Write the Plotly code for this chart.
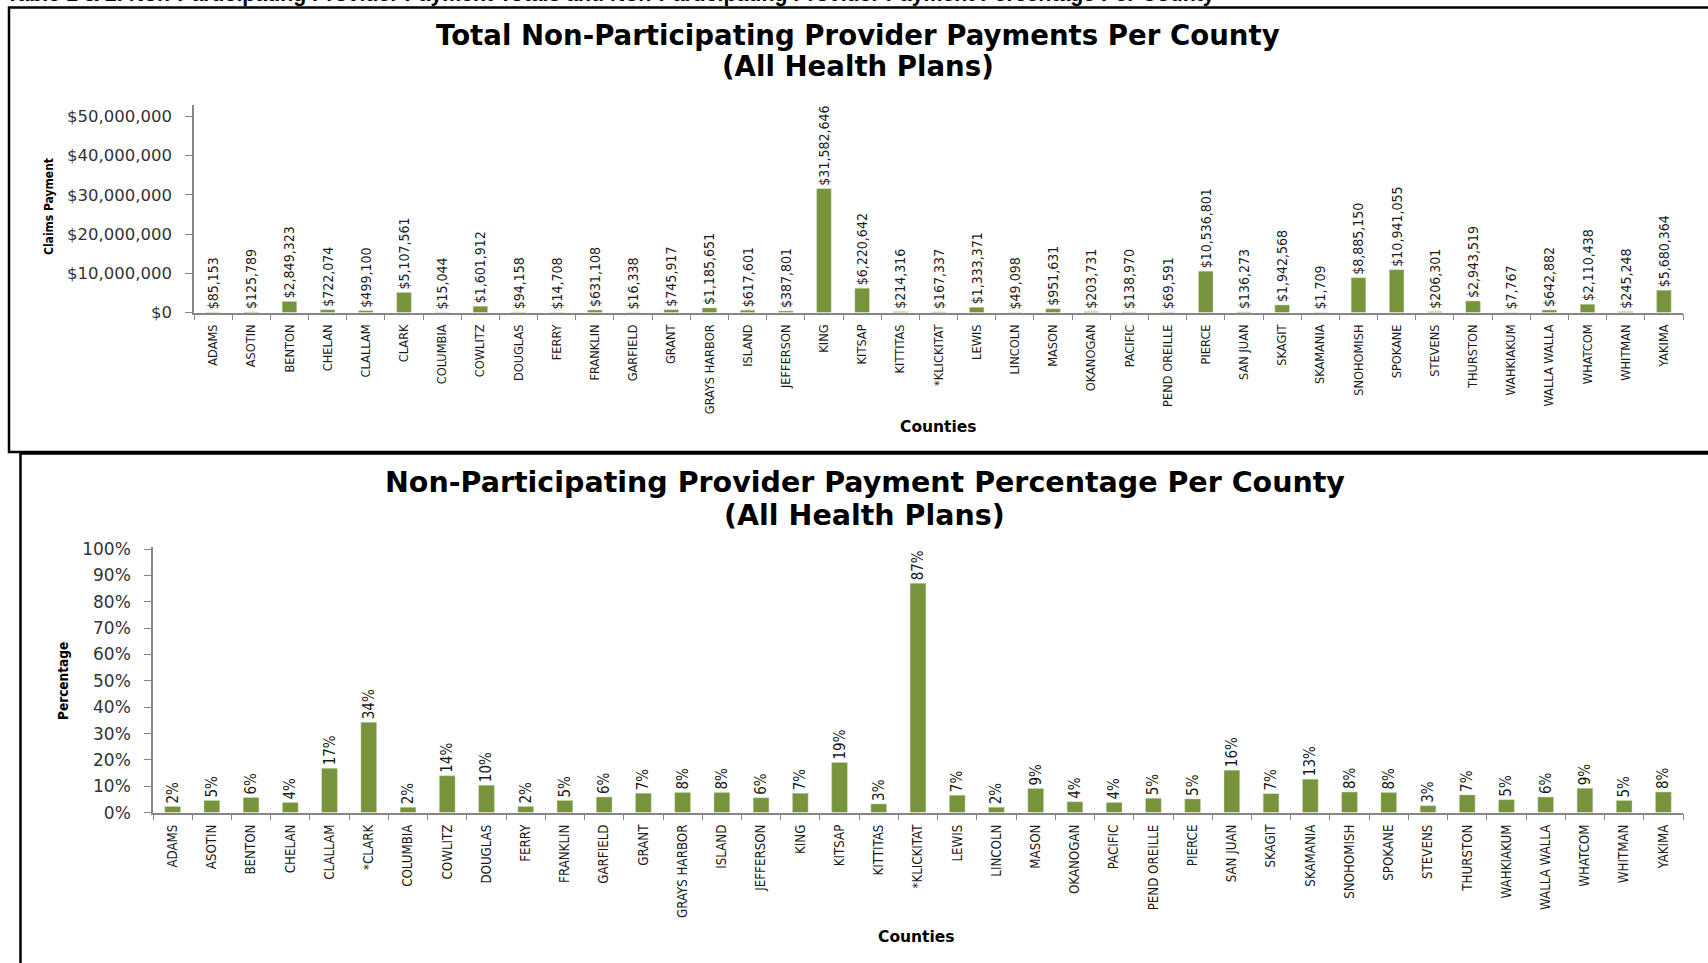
import plotly.graph_objects as go

W, H = 1708, 963

# --- data ---
counties = ["ADAMS", "ASOTIN", "BENTON", "CHELAN", "CLALLAM", "CLARK", "COLUMBIA",
            "COWLITZ", "DOUGLAS", "FERRY", "FRANKLIN", "GARFIELD", "GRANT",
            "GRAYS HARBOR", "ISLAND", "JEFFERSON", "KING", "KITSAP", "KITTITAS",
            "*KLICKITAT", "LEWIS", "LINCOLN", "MASON", "OKANOGAN", "PACIFIC",
            "PEND OREILLE", "PIERCE", "SAN JUAN", "SKAGIT", "SKAMANIA", "SNOHOMISH",
            "SPOKANE", "STEVENS", "THURSTON", "WAHKIAKUM", "WALLA WALLA", "WHATCOM",
            "WHITMAN", "YAKIMA"]

counties_pct = ["ADAMS", "ASOTIN", "BENTON", "CHELAN", "CLALLAM", "*CLARK", "COLUMBIA",
                "COWLITZ", "DOUGLAS", "FERRY", "FRANKLIN", "GARFIELD", "GRANT",
                "GRAYS HARBOR", "ISLAND", "JEFFERSON", "KING", "KITSAP", "KITTITAS",
                "*KLICKITAT", "LEWIS", "LINCOLN", "MASON", "OKANOGAN", "PACIFIC",
                "PEND OREILLE", "PIERCE", "SAN JUAN", "SKAGIT", "SKAMANIA", "SNOHOMISH",
                "SPOKANE", "STEVENS", "THURSTON", "WAHKIAKUM", "WALLA WALLA", "WHATCOM",
                "WHITMAN", "YAKIMA"]

payments = [85153, 125789, 2849323, 722074, 499100, 5107561, 15044,
            1601912, 94158, 14708, 631108, 16338, 745917,
            1185651, 617601, 387801, 31582646, 6220642, 214316,
            167337, 1333371, 49098, 951631, 203731, 138970,
            69591, 10536801, 136273, 1942568, 1709, 8885150,
            10941055, 206301, 2943519, 7767, 642882, 2110438,
            245248, 5680364]

pct = [0.023, 0.046, 0.057, 0.038, 0.168, 0.343, 0.020,
       0.140, 0.104, 0.023, 0.046, 0.059, 0.073,
       0.076, 0.076, 0.056, 0.073, 0.190, 0.033,
       0.870, 0.066, 0.020, 0.091, 0.041, 0.038,
       0.054, 0.052, 0.161, 0.072, 0.127, 0.078,
       0.076, 0.026, 0.067, 0.049, 0.059, 0.092,
       0.046, 0.078]

pay_ticks = [0, 10000000, 20000000, 30000000, 40000000, 50000000]
pay_ticktext = ["$0", "$10,000,000", "$20,000,000", "$30,000,000", "$40,000,000", "$50,000,000"]

BAR = "#77933C"
AXIS = "#868686"
NARROW = "DejaVu Sans Condensed, Liberation Sans, Arial, sans-serif"
WIDE = "DejaVu Sans, Verdana, sans-serif"


def fx(x):
    return x / W


def fy(y):
    return 1 - y / H


fig = go.Figure()

fig.add_trace(go.Bar(
    x=counties, y=payments, xaxis="x", yaxis="y",
    marker=dict(color=BAR, line=dict(color="#c9d6b0", width=0.5)),
    width=0.38,
    texttemplate="$%{y:,.0f}", textposition="outside", textangle=-90,
    constraintext="none", cliponaxis=False,
    textfont=dict(family=NARROW, size=14, color="#1a1a1a"),
    showlegend=False
))

fig.add_trace(go.Bar(
    x=counties_pct, y=pct, xaxis="x2", yaxis="y2",
    marker=dict(color=BAR, line=dict(color="#c9d6b0", width=0.5)),
    width=0.4,
    texttemplate="%{y:.0%}", textposition="outside", textangle=-90,
    constraintext="none", cliponaxis=False,
    textfont=dict(family=NARROW, size=15, color="#1a1a1a"),
    showlegend=False
))

xcommon = dict(type="category", showline=True, linecolor=AXIS, linewidth=1.5,
               ticks="outside", ticklen=6, tickcolor=AXIS, tickson="boundaries",
               tickangle=-90, showgrid=False, zeroline=False, automargin=False,
               ticklabelstandoff=5)
ycommon = dict(showline=True, linecolor=AXIS, linewidth=1.5, ticks="outside",
               ticklen=7, tickcolor=AXIS, showgrid=False, zeroline=False,
               ticklabelstandoff=10, automargin=False)

fig.update_layout(
    width=W, height=H, autosize=False,
    margin=dict(l=0, r=0, t=0, b=0, pad=0),
    paper_bgcolor="white", plot_bgcolor="white",
    xaxis=dict(xcommon, domain=[fx(194), fx(1683)], anchor="y",
               tickfont=dict(family=NARROW, size=12.7, color="#1a1a1a")),
    yaxis=dict(ycommon, domain=[fy(312.6), fy(104.6)], anchor="x",
               range=[0, 53000000], tickvals=pay_ticks, ticktext=pay_ticktext,
               tickfont=dict(family=WIDE, size=16.5, color="#333333")),
    xaxis2=dict(xcommon, domain=[fx(153), fx(1683)], anchor="y2",
                tickfont=dict(family=NARROW, size=13.2, color="#1a1a1a")),
    yaxis2=dict(ycommon, domain=[fy(812.6), fy(547)], anchor="x2",
                range=[0, 1.008], dtick=0.1, tickformat=".0%",
                tickfont=dict(family=WIDE, size=17, color="#333333")),
)

# panel frames
fig.add_shape(type="rect", xref="paper", yref="paper",
              x0=fx(9), x1=fx(1720), y0=fy(452), y1=fy(7.5),
              line=dict(color="black", width=2.5), layer="below")
fig.add_shape(type="rect", xref="paper", yref="paper",
              x0=fx(20.5), x1=fx(1720), y0=fy(980), y1=fy(453.5),
              line=dict(color="black", width=2.5), layer="below")

ann = [
    dict(text="<b>Table 1 & 2. Non-Participating Provider Payment Totals and Non-Participating Provider Payment Percentage Per County</b>",
         x=fx(4), y=fy(8), xanchor="left", yanchor="bottom",
         font=dict(family="Liberation Sans, Arial, sans-serif", size=21.3, color="black")),
    dict(text="<b>Total Non-Participating Provider Payments Per County</b>",
         x=fx(858), y=fy(35), xanchor="center", yanchor="middle",
         font=dict(family=WIDE, size=27.6, color="black")),
    dict(text="<b>(All Health Plans)</b>",
         x=fx(858), y=fy(66.4), xanchor="center", yanchor="middle",
         font=dict(family=WIDE, size=27.6, color="black")),
    dict(text="<b>Non-Participating Provider Payment Percentage Per County</b>",
         x=fx(865), y=fy(482.6), xanchor="center", yanchor="middle",
         font=dict(family=WIDE, size=28.5, color="black")),
    dict(text="<b>(All Health Plans)</b>",
         x=fx(865), y=fy(515.2), xanchor="center", yanchor="middle",
         font=dict(family=WIDE, size=28.5, color="black")),
    dict(text="<b>Claims Payment</b>", x=fx(49), y=fy(207), textangle=-90,
         xanchor="center", yanchor="middle",
         font=dict(family=NARROW, size=12, color="black")),
    dict(text="<b>Counties</b>", x=fx(938), y=fy(427),
         xanchor="center", yanchor="middle",
         font=dict(family=WIDE, size=15.5, color="black")),
    dict(text="<b>Percentage</b>", x=fx(63), y=fy(681), textangle=-90,
         xanchor="center", yanchor="middle",
         font=dict(family=NARROW, size=13.5, color="black")),
    dict(text="<b>Counties</b>", x=fx(916), y=fy(937),
         xanchor="center", yanchor="middle",
         font=dict(family=WIDE, size=15.5, color="black")),
]
for a in ann:
    fig.add_annotation(xref="paper", yref="paper", showarrow=False, **a)

fig.write_html("out.html", config={"displayModeBar": False},
               post_script="document.body.style.margin='0';")
